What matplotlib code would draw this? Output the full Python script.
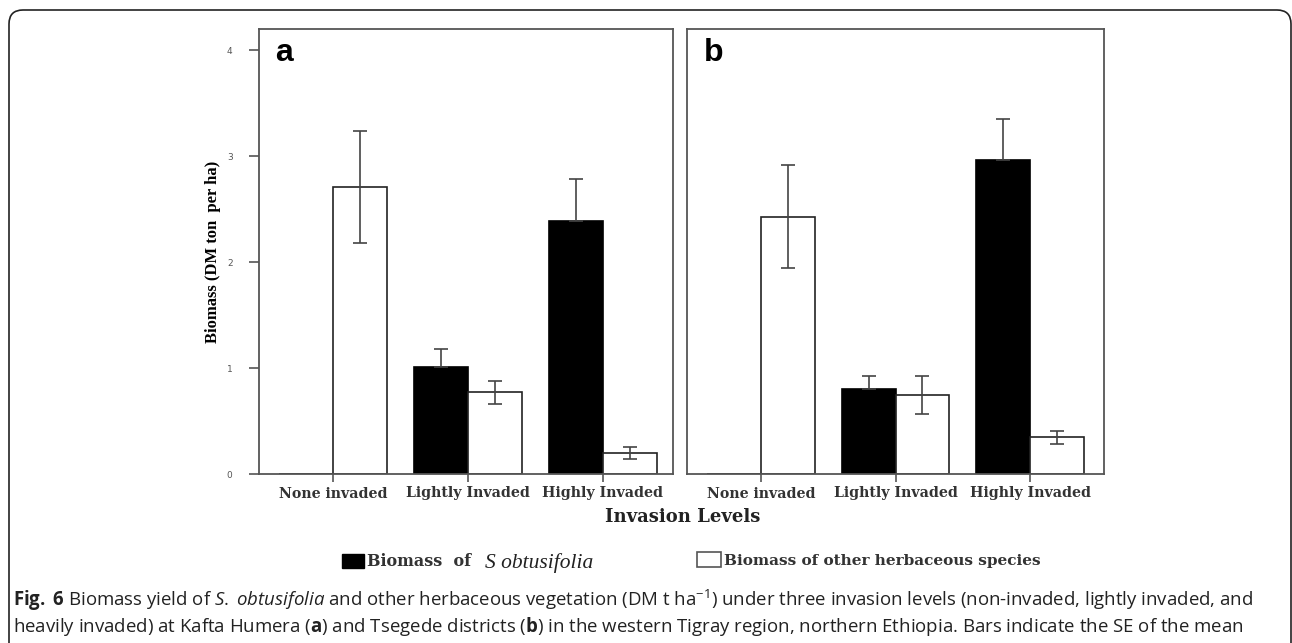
import numpy as np
import matplotlib
matplotlib.use('Agg')
import matplotlib.pyplot as plt
from matplotlib.patches import Patch, FancyBboxPatch

plt.rcParams['mathtext.fontset'] = 'custom'
plt.rcParams['mathtext.rm'] = 'Open Sans'
plt.rcParams['mathtext.it'] = 'Open Sans:italic'
plt.rcParams['mathtext.bf'] = 'Open Sans:bold'

levels = ['None invaded', 'Lightly Invaded', 'Highly Invaded']

# panel a - Kafta Humera
a_sobt = [0.0, 1.01, 2.39]
a_sobt_se = [0.0, 0.17, 0.39]
a_other = [2.71, 0.77, 0.20]
a_other_se = [0.53, 0.11, 0.055]

# panel b - Tsegede
b_sobt = [0.0, 0.80, 2.96]
b_sobt_se = [0.0, 0.125, 0.39]
b_other = [2.43, 0.745, 0.345]
b_other_se = [0.49, 0.18, 0.06]

W, H = 1292, 643
fig = plt.figure(figsize=(W / 100, H / 100), dpi=100)

# outer rounded frame
frame = FancyBboxPatch((0.09, -0.3), 12.82, 6.63, boxstyle='round,pad=0,rounding_size=0.14',
                       transform=fig.dpi_scale_trans, fill=False, edgecolor='#222222', linewidth=1.2)
fig.patches.append(frame)

serif = 'DejaVu Serif'
spine_col = '#555555'
err_col = '#444444'


def panel(rect, sobt, sobt_se, other, other_se, letter, xlim, show_y):
    ax = fig.add_axes(rect)
    x = np.arange(len(levels))
    w = 0.4
    ax.bar(x - w / 2, sobt, w, color='black', edgecolor='black', linewidth=1.2)
    ax.bar(x + w / 2, other, w, color='white', edgecolor='#222222', linewidth=1.2)
    # only the upper whisker shows above the black bars
    up = np.array(sobt_se[1:])
    ax.errorbar(x[1:] - w / 2, sobt[1:], yerr=[np.zeros_like(up), up], fmt='none', ecolor=err_col,
                elinewidth=1.2, capsize=5, capthick=1.2)
    ax.errorbar(x + w / 2, other, yerr=other_se, fmt='none', ecolor=err_col,
                elinewidth=1.2, capsize=5, capthick=1.2)
    ax.set_xlim(*xlim)
    ax.set_ylim(0, 4.2)
    ax.set_xticks(x)
    ax.set_xticklabels(levels, family=serif, fontweight='bold', fontsize=10.2, color='#333333')
    ax.tick_params(axis='x', length=6, width=1.2, color=spine_col, pad=3)
    if show_y:
        ax.set_yticks([0, 1, 2, 3, 4])
        ax.tick_params(axis='y', length=7, width=1.2, color=spine_col, labelsize=6.5,
                       labelcolor='#555555', pad=12)
        ax.set_ylabel('Biomass (DM ton  per ha)', family='Liberation Serif', fontweight='bold',
                      fontsize=12, labelpad=4)
    else:
        ax.set_yticks([])
    for s in ax.spines.values():
        s.set_color(spine_col)
        s.set_linewidth(1.3)
    ax.text(0.04, 0.945, letter, transform=ax.transAxes, family='Liberation Sans',
            fontweight='bold', fontsize=23, va='center', ha='left')
    return ax


ax_a = panel([259 / W, 1 - 474 / H, (673 - 259) / W, (474 - 29) / H],
             a_sobt, a_sobt_se, a_other, a_other_se, 'a', (-0.548, 2.52), True)
ax_b = panel([687 / W, 1 - 474 / H, (1104 - 687) / W, (474 - 29) / H],
             b_sobt, b_sobt_se, b_other, b_other_se, 'b', (-0.55, 2.55), False)

fig.text(683 / W, 1 - 517 / H, 'Invasion Levels', family=serif, fontweight='bold',
         fontsize=13, ha='center', va='center', color='#222222')

# legend
h1 = Patch(facecolor='black', edgecolor='black')
h2 = Patch(facecolor='white', edgecolor='#555555', linewidth=1.2)
leg_kw = dict(frameon=False, handlelength=1.6, handleheight=1.1, handletextpad=0.15,
              borderpad=0, borderaxespad=0, loc='center left')
leg1 = fig.legend([h1], ['Biomass  of'], bbox_to_anchor=(342 / W, 1 - 562 / H),
                  prop={'family': serif, 'weight': 'bold', 'size': 11.5},
                  **dict(leg_kw, handlelength=1.4, handleheight=0.95))
leg2 = fig.legend([h2], ['Biomass of other herbaceous species'],
                  bbox_to_anchor=(697 / W, 1 - 560 / H),
                  prop={'family': serif, 'weight': 'bold', 'size': 11}, **leg_kw)
for t in leg1.get_texts() + leg2.get_texts():
    t.set_color('#333333')
fig.text(485 / W, 1 - 563 / H, 'S obtusifolia', family='Liberation Serif', style='italic',
         fontsize=15.5, ha='left', va='center', color='#222222')

# caption
caption = (r'$\mathbf{Fig.}$ $\mathbf{6}$ Biomass yield of $\mathit{S.}$ $\mathit{obtusifolia}$ and other herbaceous '
           r'vegetation (DM t ha$^{-1}$) under three invasion levels (non-invaded, lightly invaded, and'
           '\n'
           r'heavily invaded) at Kafta Humera ($\mathbf{a}$) and Tsegede districts ($\mathbf{b}$) in the '
           r'western Tigray region, northern Ethiopia. Bars indicate the SE of the mean')
fig.text(13 / W, 1 - 588 / H, caption, family='Open Sans', fontsize=13.4, ha='left',
         va='top', color='#222222', linespacing=1.13)

fig.savefig('out.png', dpi=100)
